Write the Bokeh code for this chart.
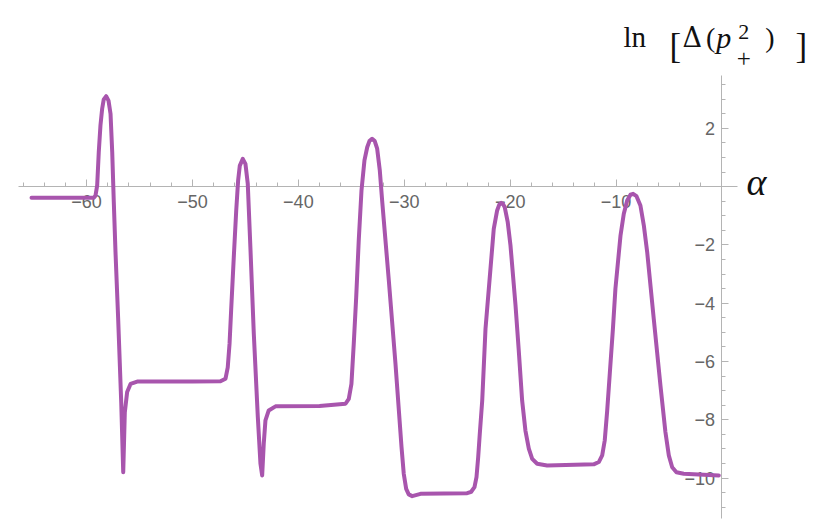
from bokeh.plotting import figure
from bokeh.models import Range1d, FixedTicker, Label
from bokeh.embed import file_html
from bokeh.resources import INLINE

# ---- data ----
alpha = [-65.2, -62.0, -59.6, -59.32, -59.16, -59.0, -58.85, -58.69, -58.53, -58.38, -58.15,
         -57.93, -57.74, -57.58, -57.43, -57.27, -57.02, -56.73, -56.54, -56.39, -56.17, -55.85,
         -55.22, -50.0, -47.36, -46.88, -46.67, -46.5, -46.35, -46.1, -45.87, -45.69, -45.53,
         -45.25, -45.0, -44.78, -44.52, -44.21, -43.83, -43.58, -43.42, -43.27, -43.11, -42.8,
         -42.16, -38.0, -35.55, -35.24, -34.99, -34.77, -34.54, -34.3, -34.04, -33.76, -33.5,
         -33.29, -33.04, -32.79, -32.56, -32.31, -32.09, -31.46, -30.83, -30.26, -30.05, -29.82,
         -29.58, -29.25, -28.47, -24.06, -23.68, -23.37, -23.18, -23.02, -22.87, -22.64, -22.33,
         -21.86, -21.55, -21.23, -21.03, -20.85, -20.67, -20.51, -20.23, -19.97, -19.5, -19.19,
         -18.87, -18.56, -18.24, -17.92, -17.45, -16.51, -12.11, -11.63, -11.31, -11.07, -10.84,
         -10.59, -10.3, -10.06, -9.58, -9.27, -8.95, -8.64, -8.39, -8.07, -7.7, -7.38, -7.06,
         -6.44, -5.81, -5.34, -5.02, -4.7, -4.3, -3.61, -0.3]
ln_delta = [-0.38, -0.38, -0.38, -0.38, -0.31, 0.04, 1.18, 2.10, 2.67, 2.99, 3.10,
            2.95, 2.50, 1.18, -0.54, -2.25, -4.52, -7.40, -9.80, -7.74, -7.05, -6.77,
            -6.69, -6.69, -6.68, -6.59, -6.20, -5.39, -4.25, -2.42, -0.82, 0.21, 0.72,
            0.95, 0.78, 0.10, -2.19, -5.05, -7.91, -9.51, -9.91, -8.82, -8.02, -7.68,
            -7.54, -7.53, -7.45, -7.28, -6.77, -5.39, -3.79, -1.85, -0.13, 0.90, 1.35,
            1.56, 1.64, 1.56, 1.30, 0.55, -0.48, -3.22, -6.08, -8.94, -9.85, -10.37,
            -10.56, -10.62, -10.54, -10.52, -10.47, -10.31, -9.97, -9.28, -8.48, -7.34, -4.88,
            -2.82, -1.45, -0.82, -0.62, -0.56, -0.60, -0.71, -1.22, -2.02, -4.05, -5.62,
            -7.34, -8.37, -8.99, -9.34, -9.51, -9.57, -9.53, -9.45, -9.22, -8.71, -7.70,
            -6.40, -4.90, -3.50, -1.68, -0.93, -0.48, -0.28, -0.25, -0.33, -0.65, -1.33, -2.25,
            -4.54, -6.82, -8.42, -9.22, -9.63, -9.80, -9.85, -9.91]

x_major = [-60, -50, -40, -30, -20, -10]
x_minor = [-66, -64, -62, -60, -58, -56, -54, -52, -50, -48, -46, -44, -42, -40, -38, -36, -34,
           -32, -30, -28, -26, -24, -22, -20, -18, -16, -14, -12, -10, -8, -6, -4, -2]
x_labels = ["\u221260", "\u221250", "\u221240", "\u221230", "\u221220", "\u221210"]
y_major = [2, -2, -4, -6, -8, -10]
y_minor = [3.5, 3.0, 2.5, 2.0, 1.5, 1.0, 0.5, -0.5, -1.0, -1.5, -2.0, -2.5, -3.0, -3.5, -4.0,
           -4.5, -5.0, -5.5, -6.0, -6.5, -7.0, -7.5, -8.0, -8.5, -9.0, -9.5, -10.0, -10.5, -11.0]
y_labels = ["2", "\u22122", "\u22124", "\u22126", "\u22128", "\u221210"]

# ---- figure ----
p = figure(width=830, height=521, x_range=Range1d(-68.13, 10.25), y_range=Range1d(-11.49, 6.384),
           output_backend="svg", toolbar_location=None, min_border=0)
p.grid.visible = False
p.outline_line_color = None
p.background_fill_color = "white"
p.border_fill_color = "white"

axis_col = "#b4b4b4"
lab_col = "#666666"
for ax, major, minor, labels, bounds in [
        (p.xaxis[0], x_major, x_minor, x_labels, (-66.4, 1.5)),
        (p.yaxis[0], y_major, y_minor, y_labels, (-11.4, 3.8))]:
    ax.fixed_location = 0
    ax.bounds = bounds
    ax.ticker = FixedTicker(ticks=major, minor_ticks=minor)
    ax.major_label_overrides = {v: s for v, s in zip(major, labels)}
    ax.axis_line_color = axis_col
    ax.major_tick_line_color = axis_col
    ax.minor_tick_line_color = axis_col
    ax.major_tick_in = 7
    ax.major_tick_out = 0
    ax.minor_tick_in = 4
    ax.minor_tick_out = 0
    ax.major_label_text_color = lab_col
    ax.major_label_text_font = "Liberation Sans"
    ax.major_label_text_font_size = "18px"
p.xaxis[0].major_label_standoff = 8
p.yaxis[0].major_label_standoff = 7

line = p.line(alpha, ln_delta, line_color="#a855ad", line_width=4, line_join="round", line_cap="round")
line.level = "overlay"

# ---- axis titles (LaTeX-like) ----
serif = "Liberation Serif"
pieces = [
    ("ln", -9.30, 5.12, "29px", "normal", serif),
    ("[", -4.95, 4.81, "35px", "normal", serif),
    ("\u0394", -3.73, 5.12, "27px", "normal", "DejaVu Serif"),
    ("(", -1.50, 5.12, "28px", "normal", serif),
    ("p", -0.55, 5.12, "30px", "italic", serif),
    ("2", 1.55, 5.31, "22px", "normal", serif),
    ("+", 1.40, 4.38, "25px", "normal", serif),
    (")", 4.10, 5.12, "28px", "normal", serif),
    ("]", 6.94, 4.81, "35px", "normal", serif),
    ("\u03b1", 2.31, 0.17, "38px", "italic", serif),
]
for txt, xx, yy, fs, st, fnt in pieces:
    p.add_layout(Label(x=xx, y=yy, text=txt, text_font=fnt, text_font_size=fs,
                       text_font_style=st, text_color="#111111", text_align="left",
                       text_baseline="alphabetic"))

open("out.html", "w").write(file_html(p, INLINE))
